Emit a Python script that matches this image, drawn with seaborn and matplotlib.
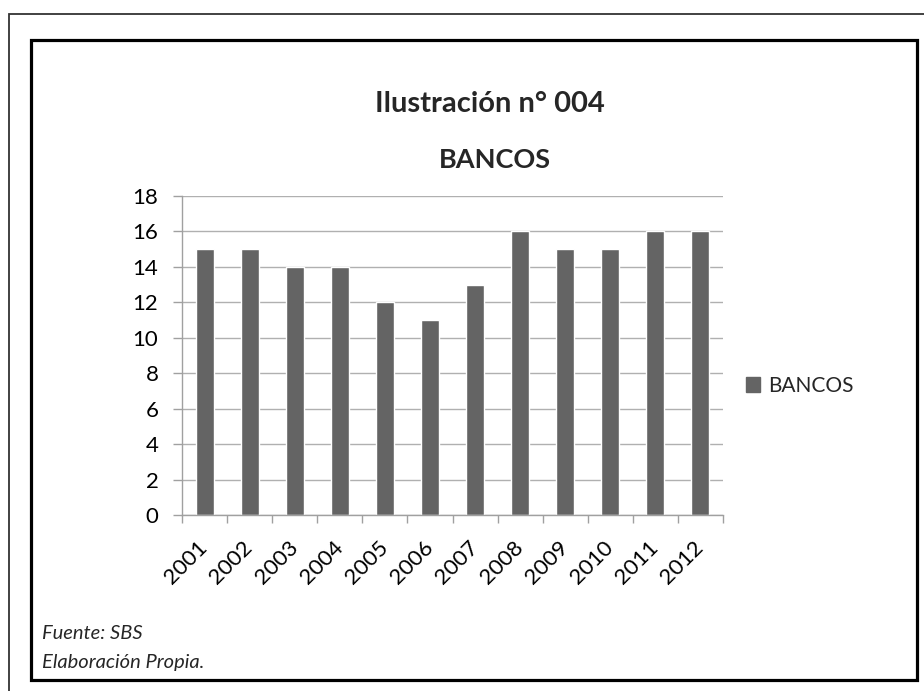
import matplotlib
matplotlib.use("Agg")
import matplotlib.pyplot as plt
import seaborn as sns
import pandas as pd
from matplotlib.patches import Rectangle, Patch

years = ["2001", "2002", "2003", "2004", "2005", "2006", "2007", "2008", "2009", "2010", "2011", "2012"]
bancos = [15, 15, 14, 14, 12, 11, 13, 16, 15, 15, 16, 16]
series_name = "BANCOS"
title = "Ilustración n° 004"
subtitle = "BANCOS"
footer = ["Fuente: SBS", "Elaboración Propia."]
yticks = [0, 2, 4, 6, 8, 10, 12, 14, 16, 18]

sns.set_theme(style="white")
plt.rcParams["font.family"] = ["Lato", "DejaVu Sans"]

df = pd.DataFrame({"year": years, "value": bancos})

W, H = 924, 691
fig = plt.figure(figsize=(W / 100, H / 100), dpi=100)
fig.patch.set_facecolor("white")

def fx(px):
    return px / W

def fy(py):
    return 1 - py / H

# outer border (runs off the right and bottom edges)
fig.add_artist(Rectangle((fx(8.5), -0.1), 1.2, fy(13.5) + 0.1, transform=fig.transFigure,
                         fill=False, edgecolor="#333333", linewidth=1.3))
# inner border
fig.add_artist(Rectangle((fx(31), fy(680)), fx(917) - fx(31), fy(40) - fy(680),
                         transform=fig.transFigure, fill=False, edgecolor="black", linewidth=2.3))

left, right, top, bottom = 182, 723, 196, 515
ax = fig.add_axes([fx(left), fy(bottom), fx(right) - fx(left), fy(top) - fy(bottom)])
color = "#646464"
sns.barplot(data=df, x="year", y="value", color=color, width=0.4, ax=ax, saturation=1)

ax.set_ylim(0, 18)
ax.set_xlim(-0.5, len(years) - 0.5)
ax.set_yticks(yticks)
ax.yaxis.grid(True, color="#b0b0b0", linewidth=1)
ax.set_axisbelow(True)
ax.set_xlabel("")
ax.set_ylabel("")
for s in ["top", "right"]:
    ax.spines[s].set_visible(False)
for s in ["left", "bottom"]:
    ax.spines[s].set_color("#a0a0a0")
    ax.spines[s].set_linewidth(1)

ax.tick_params(axis="y", which="major", length=6.5, color="#a0a0a0", width=1,
               labelsize=16, pad=10.5, left=True)
ax.set_xticks(range(len(years)))
ax.set_xticklabels(years, rotation=45, ha="right", va="center", rotation_mode="anchor", fontsize=16)
ax.tick_params(axis="x", which="major", length=0, pad=21)
ax.set_xticks([i - 0.5 for i in range(len(years) + 1)], minor=True)
ax.tick_params(axis="x", which="minor", length=6, color="#a0a0a0", width=1, bottom=True)
for lab in ax.get_yticklabels() + ax.get_xticklabels():
    lab.set_color("black")

fig.legend(handles=[Patch(facecolor=color, edgecolor=color)], labels=[series_name],
           loc="center left", bbox_to_anchor=(fx(727), fy(386)), frameon=False,
           fontsize=15, handlelength=0.7, handleheight=0.7, handletextpad=0.35)

fig.text(fx(490), fy(112), title, ha="center", va="baseline", fontsize=21, fontweight="bold")
fig.text(fx(495), fy(168), subtitle, ha="center", va="baseline", fontsize=19.5, fontweight="bold")
fig.text(fx(42), fy(639), footer[0], ha="left", va="baseline", fontsize=14.5, style="italic")
fig.text(fx(42), fy(668), footer[1], ha="left", va="baseline", fontsize=14.5, style="italic")

fig.savefig("out.png", dpi=100)
